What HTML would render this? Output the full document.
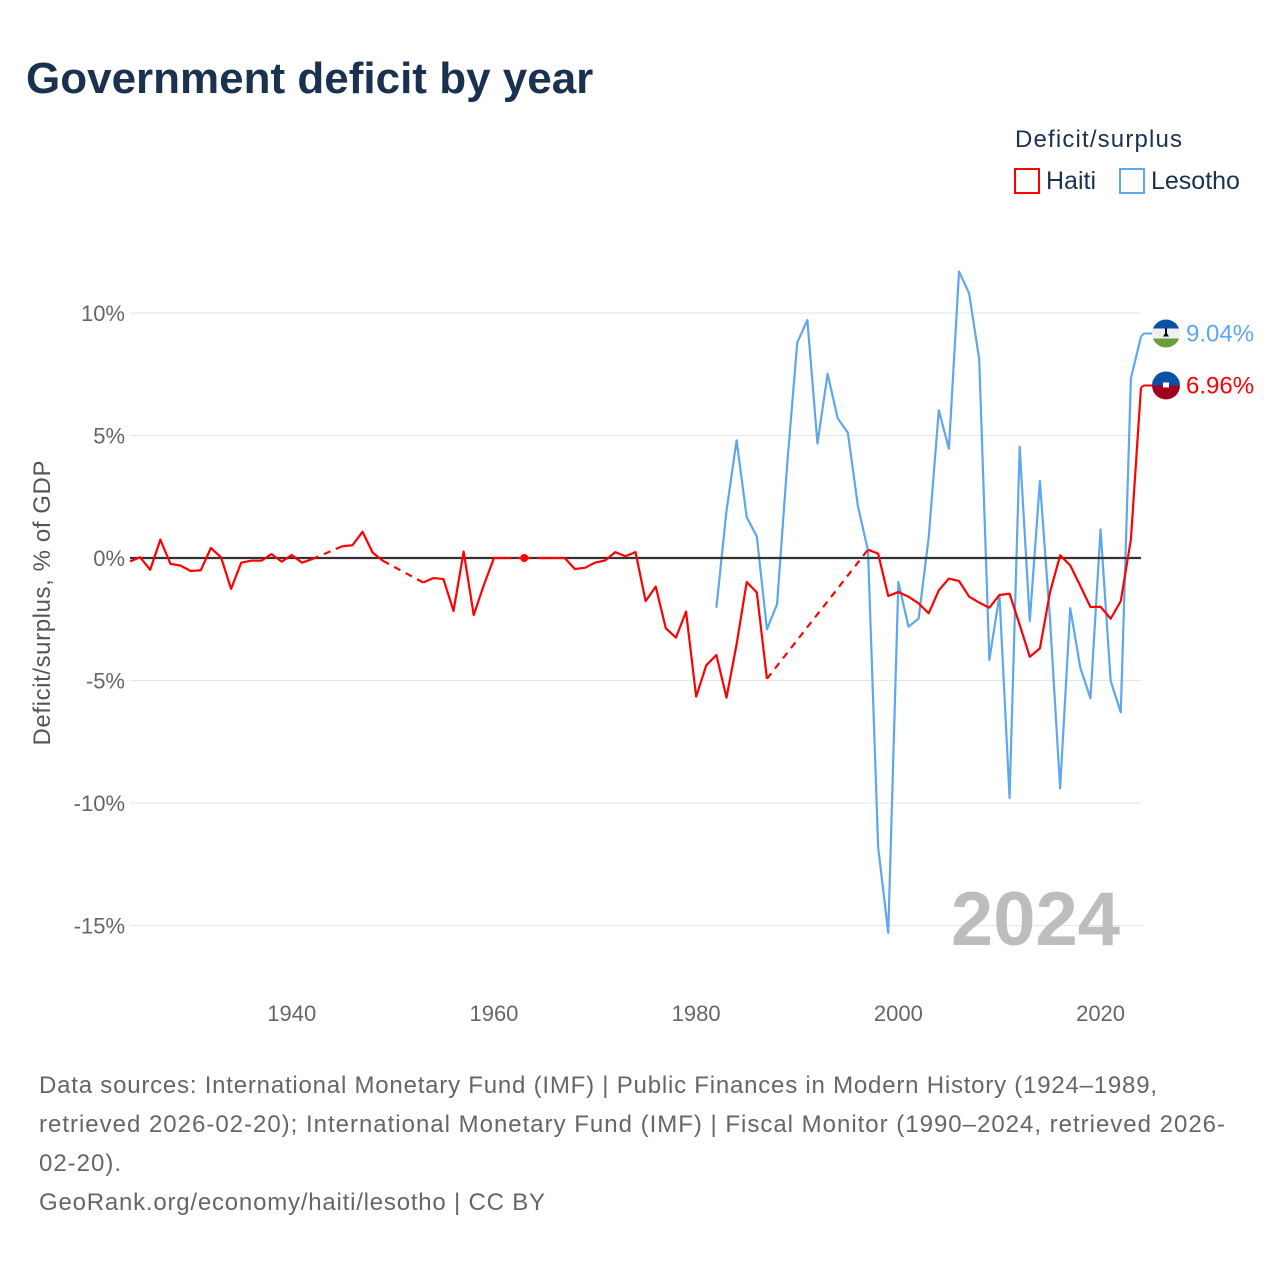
<!DOCTYPE html>
<html><head><meta charset="utf-8">
<style>
html,body{margin:0;padding:0;background:#fff;}
body{width:1280px;height:1280px;overflow:hidden;font-family:"Liberation Sans",sans-serif;}
</style></head>
<body>
<svg id="chart" width="1280" height="1280" viewBox="0 0 1280 1280" xmlns="http://www.w3.org/2000/svg" font-family="Liberation Sans, sans-serif">
  <text x="26" y="93" font-size="44" font-weight="bold" fill="#1b3150">Government deficit by year</text>
  <text x="1015" y="147" font-size="24" fill="#1b3150" textLength="167">Deficit/surplus</text>
  <g>
    <rect x="1015" y="169" width="24" height="24" fill="none" stroke="#ff0000" stroke-width="2"/>
    <text x="1046" y="189" font-size="25" fill="#1b3150">Haiti</text>
  </g>
  <g>
    <rect x="1120" y="169" width="24" height="24" fill="none" stroke="#5ea7ee" stroke-width="2"/>
    <text x="1151" y="189" font-size="25" fill="#1b3150">Lesotho</text>
  </g>
  <g id="grid"></g>
  <g id="series"></g>
  <text x="1120" y="945" font-size="76" font-weight="bold" fill="#bdbdbd" text-anchor="end">2024</text>
  <text transform="translate(50,603) rotate(-90)" font-size="24" fill="#555" text-anchor="middle" textLength="285">Deficit/surplus, % of GDP</text>
  <g font-size="24" fill="#666">
    <text x="39" y="1093" textLength="1118">Data sources: International Monetary Fund (IMF) | Public Finances in Modern History (1924–1989,</text>
    <text x="39" y="1132" textLength="1186">retrieved 2026-02-20); International Monetary Fund (IMF) | Fiscal Monitor (1990–2024, retrieved 2026-</text>
    <text x="39" y="1171" textLength="82">02-20).</text>
    <text x="39" y="1210" textLength="506">GeoRank.org/economy/haiti/lesotho | CC BY</text>
  </g>
</svg>
<script>
const yTicks = [10, 5, 0, -5, -10, -15];
const yTickLabels = ["10%", "5%", "0%", "-5%", "-10%", "-15%"];
const xTicks = [1940, 1960, 1980, 2000, 2020];
const haitiYears = [1924,1925,1926,1927,1928,1929,1930,1931,1932,1933,1934,1935,1936,1937,1938,1939,1940,1941,1942,1943,1944,1945,1946,1947,1948,1949,1950,1951,1952,1953,1954,1955,1956,1957,1958,1959,1960,1961,1962,1963,1964,1965,1966,1967,1968,1969,1970,1971,1972,1973,1974,1975,1976,1977,1978,1979,1980,1981,1982,1983,1984,1985,1986,1987,1988,1989,1990,1991,1992,1993,1994,1995,1996,1997,1998,1999,2000,2001,2002,2003,2004,2005,2006,2007,2008,2009,2010,2011,2012,2013,2014,2015,2016,2017,2018,2019,2020,2021,2022,2023,2024];
const haitiValues = [-0.14,0.03,-0.48,0.75,-0.24,-0.31,-0.53,-0.5,0.41,0.03,-1.26,-0.19,-0.11,-0.11,0.16,-0.15,0.12,-0.19,-0.05,null,null,0.48,0.52,1.07,0.22,-0.11,null,null,null,-1.0,-0.82,-0.86,-2.16,0.26,-2.33,-1.1,0,0,null,0,null,0,0,0,-0.45,-0.4,-0.19,-0.1,0.24,0.07,0.24,-1.76,-1.17,-2.87,-3.25,-2.19,-5.66,-4.38,-3.96,-5.7,-3.52,-0.98,-1.41,-4.93,null,null,null,null,null,null,null,null,null,0.34,0.18,-1.55,-1.39,-1.58,-1.85,-2.26,-1.32,-0.84,-0.94,-1.58,-1.82,-2.03,-1.51,-1.46,-2.73,-4.03,-3.69,-1.4,0.11,-0.3,-1.14,-2.0,-1.99,-2.48,-1.76,0.76,6.96];
const lesothoYears = [1982,1983,1984,1985,1986,1987,1988,1989,1990,1991,1992,1993,1994,1995,1996,1997,1998,1999,2000,2001,2002,2003,2004,2005,2006,2007,2008,2009,2010,2011,2012,2013,2014,2015,2016,2017,2018,2019,2020,2021,2022,2023,2024];
const lesothoValues = [-2.03,1.92,4.8,1.67,0.88,-2.91,-1.89,3.8,8.79,9.71,4.67,7.52,5.7,5.12,2.12,0.3,-11.8,-15.3,-0.98,-2.8,-2.48,0.83,6.03,4.46,11.69,10.8,8.1,-4.16,-1.51,-9.8,4.54,-2.57,3.14,-2.5,-9.4,-2.05,-4.48,-5.73,1.17,-5.02,-6.3,7.33,9.04];

const X0 = 130, X1 = 1141, Y0 = 558, PX_PER_PCT = 24.5;
function xs(y){ return X0 + (y - 1924) * (X1 - X0) / 100; }
function ys(v){ return Y0 - v * PX_PER_PCT; }
const NS = "http://www.w3.org/2000/svg";
const grid = document.getElementById('grid');
const ser = document.getElementById('series');
function mk(tag, attrs, parent){ const e=document.createElementNS(NS,tag); for(const k in attrs) e.setAttribute(k,attrs[k]); parent.appendChild(e); return e; }

yTicks.forEach((t,i)=>{
  if(t!==0){
    const l = mk('line',{x1:X0,x2:X1,y1:ys(t),y2:ys(t),stroke:'#e6e6e6','stroke-width':1},grid);
    
    
  }
  const tx = mk('text',{x:125,y:ys(t)+8,'font-size':22,fill:'#666','text-anchor':'end'},grid);
  tx.textContent = yTickLabels[i];
  
  
});
xTicks.forEach(t=>{
  const tx = mk('text',{x:xs(t),y:1021,'font-size':22,fill:'#666','text-anchor':'middle'},grid);
  tx.textContent = String(t);
  
  
});

function drawSeries(years, vals, color, name){
  let seg=[]; let last=null;
  const segs=[]; const dashes=[];
  years.forEach((yr,i)=>{
    const v=vals[i];
    if(v===null){ if(seg.length) segs.push(seg); seg=[]; return; }
    const p=[xs(yr),ys(v)];
    if(seg.length===0 && last && yr-last.yr>1) dashes.push([last.p,p]);
    seg.push(p); last={yr,p};
  });
  if(seg.length) segs.push(seg);
  segs.forEach(s=>{
    if(s.length===1){
      const c=mk('circle',{cx:s[0][0],cy:s[0][1],r:4,fill:color},ser);
      
      
    } else {
      const pl=mk('polyline',{points:s.map(p=>p.join(',')).join(' '),fill:'none',stroke:color,'stroke-width':2.2,'stroke-linejoin':'round'},ser);
      
      
    }
  });
  dashes.forEach(d=>{
    const l=mk('line',{x1:d[0][0],y1:d[0][1],x2:d[1][0],y2:d[1][1],stroke:color,'stroke-width':2.2,'stroke-dasharray':'7,6'},ser);
    
    
  });
}
drawSeries(lesothoYears, lesothoValues, '#5ea7ee', 'lesotho');
const zl = mk('line',{x1:X0,x2:X1,y1:Y0,y2:Y0,stroke:'#333','stroke-width':2.2},ser);


drawSeries(haitiYears, haitiValues, '#ff0000', 'haiti');

function endLabel(v, color, name, top, mid, bot, labY){
  const x=X1, y=ys(v);
  const st=mk('polyline',{points:`${x},${y} ${x+3},${labY} ${x+12},${labY}`,fill:'none',stroke:color,'stroke-width':2},ser);
  
  
  const g=mk('g',{},ser);
  
  
  const cx=1166, r=14;
  mk('clipPath',{id:'c'+name},g).appendChild(document.createElementNS(NS,'circle'));
  const cc=g.querySelector('clipPath circle'); cc.setAttribute('cx',cx); cc.setAttribute('cy',labY); cc.setAttribute('r',r);
  const cg=mk('g',{'clip-path':`url(#c${name})`},g);
  if(mid){
    mk('rect',{x:cx-r,y:labY-r,width:2*r,height:9,fill:top},cg);
    mk('rect',{x:cx-r,y:labY-r+9,width:2*r,height:10,fill:mid},cg);
    mk('rect',{x:cx-r,y:labY-r+19,width:2*r,height:9,fill:bot},cg);
    mk('path',{d:`M${cx-3},${labY+3} L${cx+3},${labY+3} L${cx+1},${labY} L${cx+1},${labY-5} L${cx-1},${labY-5} L${cx-1},${labY} Z`,fill:'#000'},cg);
  } else {
    mk('rect',{x:cx-r,y:labY-r,width:2*r,height:r,fill:top},cg);
    mk('rect',{x:cx-r,y:labY,width:2*r,height:r,fill:bot},cg);
    mk('rect',{x:cx-3,y:labY-3,width:6,height:5,fill:'#fff'},cg);
  }
  const t=mk('text',{x:1186,y:labY+8,'font-size':24,fill:color},ser);
  t.textContent=v.toFixed(2)+'%';
  
  
}
endLabel(lesothoValues[lesothoValues.length-1],'#5ea7ee','lesotho','#0a4fa8','#efefef','#6a9e3c',ys(lesothoValues[lesothoValues.length-1])-3);
endLabel(haitiValues[haitiValues.length-1],'#ff0000','haiti','#0a4fa8',null,'#a0001e',ys(haitiValues[haitiValues.length-1])-2);
</script>
</body></html>
